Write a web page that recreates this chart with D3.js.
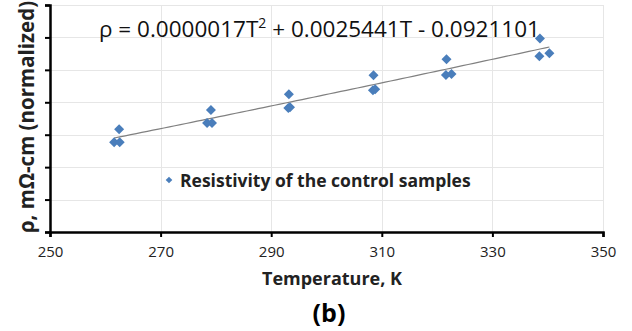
<!DOCTYPE html>
<html>
<head>
<meta charset="utf-8">
<script src="https://cdn.jsdelivr.net/npm/d3@7"></script>
<style>
  body { margin: 0; background: #fff; }
  svg { display: block; font-family: "Open Sans", sans-serif; }
</style>
</head>
<body>
<svg width="632" height="331"></svg>
<script>
// data (temperature in K, normalized resistivity)
var temps = [261.6, 262.6, 262.5, 278.4, 279.3, 279.1, 293.1, 293.4, 293.2,
             308.4, 308.8, 308.5, 321.6, 322.6, 321.7, 338.5, 340.3, 338.6];
var rhos  = [0.677, 0.677, 0.717, 0.736, 0.736, 0.776, 0.782, 0.785, 0.825,
             0.837, 0.840, 0.883, 0.884, 0.887, 0.933, 0.942, 0.951, 0.997];
var xTicks = [250, 270, 290, 310, 330, 350];
var yTicks = [0.4, 0.5, 0.6, 0.7, 0.8, 0.9, 1.0, 1.1];
// trend line coefficients as printed on the chart
var coef = [0.0000017, 0.0025441, -0.0921101];
var trendRange = [261.6, 340.3];

var svg = d3.select("svg");
var margin = {left: 50, right: 29, top: 5, bottom: 99};
var W = 632, H = 331;

var x = d3.scaleLinear().domain([250, 350]).range([margin.left, W - margin.right]);
var y = d3.scaleLinear().domain([0.4, 1.1]).range([H - margin.bottom, margin.top]);

/* gridlines */
svg.append("g")
  .selectAll("line.h")
  .data(yTicks.slice(1))
  .enter()
  .append("line")
  .attr("x1", x(250)).attr("x2", x(350))
  .attr("y1", function(d) { return Math.round(y(d)) + 0.5; })
  .attr("y2", function(d) { return Math.round(y(d)) + 0.5; })
  .attr("stroke", "#e6e6e6");
svg.append("g")
  .selectAll("line.v")
  .data(xTicks.slice(1))
  .enter()
  .append("line")
  .attr("y1", y(0.4)).attr("y2", y(1.1))
  .attr("x1", function(d) { return Math.round(x(d)) + 0.5; })
  .attr("x2", function(d) { return Math.round(x(d)) + 0.5; })
  .attr("stroke", "#e6e6e6");

/* axes */
var xAxis = svg.append("g")
  .attr("transform", "translate(0," + y(0.4) + ")")
  .call(d3.axisBottom(x).tickValues(xTicks).tickSize(5).tickPadding(9).tickFormat(d3.format("d")));
xAxis.select(".domain").attr("stroke", "#000").attr("stroke-width", 2.5);
xAxis.selectAll(".tick line").attr("stroke", "#000").attr("stroke-width", 2);
xAxis.selectAll("text").attr("font-size", 15).attr("fill", "#222")
  .attr("font-family", "Open Sans");

var yAxis = svg.append("g")
  .attr("transform", "translate(" + x(250) + ",0)")
  .call(d3.axisLeft(y).tickValues(yTicks).tickSize(5).tickFormat(""));
yAxis.select(".domain").attr("stroke", "#000").attr("stroke-width", 2.5);
yAxis.selectAll(".tick line").attr("stroke", "#000").attr("stroke-width", 2);

/* trend line */
var trend = d3.range(trendRange[0], trendRange[1] + 0.01, 1).concat([trendRange[1]]);
svg.append("path")
  .datum(trend)
  .attr("fill", "none")
  .attr("stroke", "#808080")
  .attr("stroke-width", 1.2)
  .attr("d", d3.line()
    .x(function(t) { return x(t); })
    .y(function(t) { return y(coef[0] * t * t + coef[1] * t + coef[2]); }));

/* points */
var diamond = d3.symbol().type(d3.symbolSquare).size(50);
svg.append("g")
  .selectAll("path")
  .data(d3.range(temps.length))
  .enter()
  .append("path")
  .attr("d", diamond)
  .attr("transform", function(i) { return "translate(" + x(temps[i]) + "," + y(rhos[i]) + ") rotate(45)"; })
  .attr("fill", "#4a7ebb");

/* equation */
var eq = svg.append("text")
  .attr("x", 99).attr("y", 37)
  .attr("font-size", 22.5)
  .attr("fill", "#111");
eq.append("tspan").text("ρ = 0.0000017T");
eq.append("tspan").attr("font-size", 14).attr("dy", -9).text("2");
eq.append("tspan").attr("dy", 9).text(" + 0.0025441T - 0.0921101");

/* legend */
svg.append("path")
  .attr("d", d3.symbol().type(d3.symbolSquare).size(22))
  .attr("transform", "translate(169,180) rotate(45)")
  .attr("fill", "#4a7ebb");
svg.append("text")
  .attr("x", 180).attr("y", 187)
  .attr("font-size", 17.5).attr("font-weight", "bold").attr("fill", "#222")
  .text("Resistivity of the control samples");

/* axis titles */
svg.append("text")
  .attr("x", 332).attr("y", 285)
  .attr("text-anchor", "middle")
  .attr("font-size", 18).attr("font-weight", "bold").attr("fill", "#222")
  .text("Temperature, K");
svg.append("text")
  .attr("transform", "translate(34," + 117 + ") rotate(-90)")
  .attr("text-anchor", "middle")
  .attr("font-size", 20.5).attr("font-weight", "bold").attr("fill", "#222")
  .text("ρ, mΩ-cm (normalized)");
svg.append("text")
  .attr("x", 329).attr("y", 322)
  .attr("text-anchor", "middle")
  .attr("font-size", 25).attr("font-weight", "bold").attr("fill", "#000")
  .text("(b)");
</script>
</body>
</html>
